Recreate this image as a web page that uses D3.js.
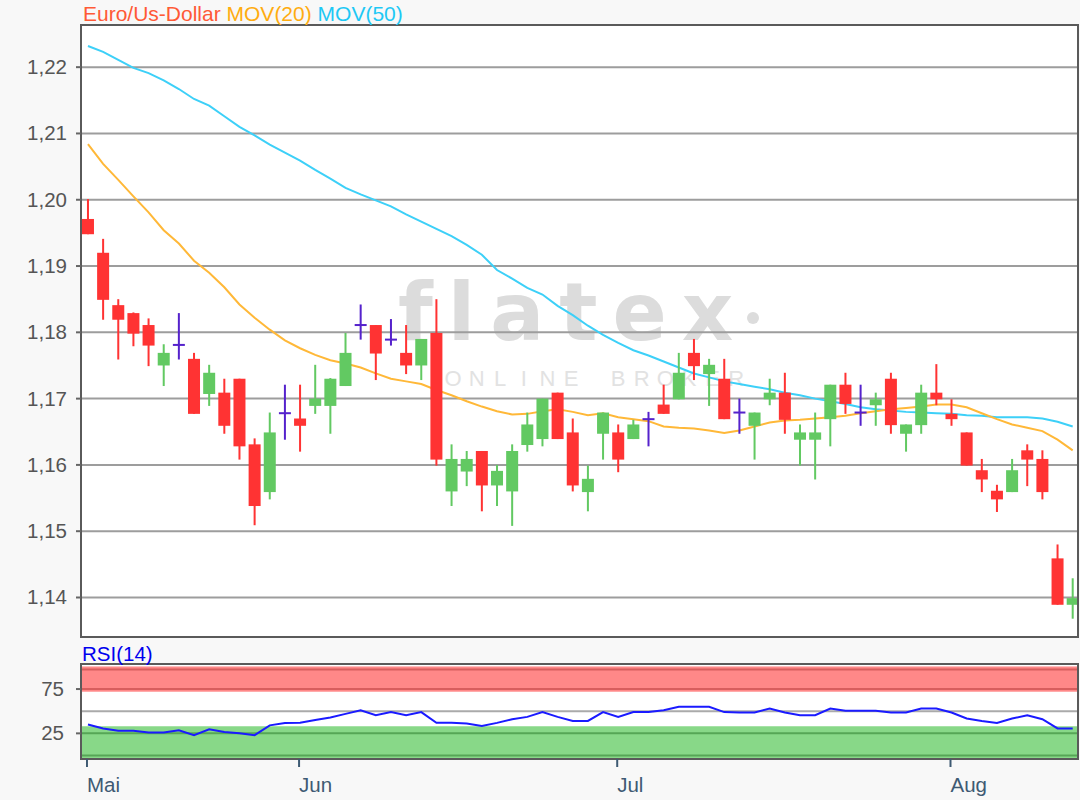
<!DOCTYPE html>
<html><head><meta charset="utf-8">
<script src="https://cdn.jsdelivr.net/npm/d3@7"></script>
<style>body{margin:0;background:#f8f8f8;} svg{display:block;font-family:"Liberation Sans",Arial,sans-serif;}</style>
</head><body><svg id="c" width="1080" height="800"></svg>
<script>
// ---- data ----
const openP  = [1.1971,1.1920,1.1841,1.1829,1.1811,1.1750,1.1781,1.1760,1.1707,1.1709,1.1730,1.1631,1.1559,1.1678,1.1670,1.1689,1.1689,1.1719,1.1811,1.1811,1.1789,1.1769,1.1750,1.1799,1.1560,1.1590,1.1621,1.1569,1.1560,1.1630,1.1639,1.1709,1.1649,1.1559,1.1647,1.1649,1.1639,1.1669,1.1691,1.1699,1.1769,1.1737,1.1730,1.1679,1.1659,1.1699,1.1709,1.1638,1.1638,1.1669,1.1721,1.1679,1.1690,1.1730,1.1647,1.1660,1.1709,1.1677,1.1649,1.1592,1.1561,1.1559,1.1622,1.1609,1.1459,1.1389];
const highP  = [1.2001,1.1941,1.1850,1.1830,1.1821,1.1782,1.1829,1.1769,1.1751,1.1730,1.1730,1.1640,1.1679,1.1721,1.1721,1.1751,1.1731,1.1799,1.1842,1.1811,1.1820,1.1811,1.1790,1.1850,1.1631,1.1621,1.1621,1.1600,1.1631,1.1679,1.1700,1.1709,1.1670,1.1599,1.1679,1.1661,1.1668,1.1680,1.1721,1.1769,1.1790,1.1760,1.1760,1.1700,1.1679,1.1730,1.1739,1.1661,1.1679,1.1721,1.1739,1.1721,1.1709,1.1739,1.1661,1.1721,1.1752,1.1699,1.1649,1.1609,1.1570,1.1609,1.1631,1.1622,1.1480,1.1429];
const lowP   = [1.1948,1.1819,1.1759,1.1779,1.1749,1.1719,1.1759,1.1677,1.1689,1.1647,1.1608,1.1509,1.1548,1.1638,1.1620,1.1677,1.1647,1.1719,1.1789,1.1728,1.1780,1.1737,1.1728,1.1599,1.1538,1.1568,1.1530,1.1538,1.1508,1.1620,1.1628,1.1639,1.1560,1.1530,1.1608,1.1589,1.1639,1.1628,1.1677,1.1699,1.1728,1.1689,1.1669,1.1647,1.1608,1.1690,1.1647,1.1599,1.1578,1.1628,1.1677,1.1659,1.1659,1.1647,1.1620,1.1647,1.1690,1.1659,1.1599,1.1559,1.1529,1.1559,1.1568,1.1548,1.1389,1.1368];
const closeP = [1.1948,1.1849,1.1819,1.1798,1.1780,1.1769,1.1781,1.1677,1.1739,1.1659,1.1628,1.1538,1.1649,1.1678,1.1659,1.1700,1.1730,1.1769,1.1811,1.1768,1.1789,1.1750,1.1790,1.1608,1.1609,1.1609,1.1569,1.1591,1.1621,1.1661,1.1700,1.1639,1.1569,1.1579,1.1679,1.1608,1.1661,1.1669,1.1677,1.1739,1.1749,1.1751,1.1669,1.1679,1.1679,1.1709,1.1668,1.1649,1.1649,1.1721,1.1692,1.1679,1.1699,1.1660,1.1661,1.1709,1.1699,1.1669,1.1599,1.1578,1.1548,1.1592,1.1608,1.1559,1.1389,1.1399];
const mov20  = [1.2084,1.2054,1.2030,1.2005,1.1981,1.1954,1.1934,1.1908,1.1890,1.1868,1.1842,1.1822,1.1804,1.1788,1.1776,1.1766,1.1758,1.1753,1.1747,1.1738,1.1730,1.1726,1.1722,1.1713,1.1705,1.1696,1.1688,1.1681,1.1676,1.1677,1.1681,1.1684,1.1680,1.1675,1.1678,1.1672,1.1669,1.1666,1.1658,1.1656,1.1655,1.1652,1.1648,1.1652,1.1658,1.1664,1.1667,1.1668,1.1670,1.1672,1.1674,1.1678,1.1681,1.1684,1.1686,1.1688,1.1691,1.1691,1.1687,1.1678,1.1669,1.1661,1.1656,1.1651,1.1638,1.1622];
const mov50  = [1.2232,1.2223,1.2211,1.2199,1.2191,1.2180,1.2167,1.2152,1.2142,1.2126,1.2110,1.2097,1.2083,1.2071,1.2059,1.2045,1.2032,1.2018,1.2008,1.1999,1.1990,1.1978,1.1967,1.1956,1.1945,1.1932,1.1917,1.1894,1.1881,1.1867,1.1857,1.1840,1.1826,1.1810,1.1796,1.1784,1.1773,1.1765,1.1756,1.1747,1.1738,1.1732,1.1726,1.1722,1.1718,1.1714,1.1709,1.1705,1.1700,1.1696,1.1692,1.1687,1.1684,1.1682,1.1680,1.1679,1.1678,1.1677,1.1675,1.1674,1.1672,1.1672,1.1672,1.1670,1.1665,1.1658];
const rsi14  = [35,30.5,28,28,26,26,28.5,23,29.5,26.5,25,23,34,36.8,37,40,43,47,51,45.5,49,45.5,49,37,37,36,33.4,36.8,41,43.6,49,43.6,39,39,49,43.6,49,49,51,55,55,55,49,48.5,48.5,53,48.5,45.5,45.5,53,50.4,50.4,50.4,48.5,48.5,53,53,48.5,41.7,39,36.8,41.7,45.5,41,30.5,30.5];
const monthIdx    = [0,14,35,57];
const monthLabels = ["Mai","Jun","Jul","Aug"];
const priceTicks  = [1.14,1.15,1.16,1.17,1.18,1.19,1.20,1.21,1.22];
const rsiTicks    = [25,75];

// ---- layout ----
const L=81,R=1078,T=25,B=637,T2=664,B2=759;
const svg=d3.select("#c");
const n=closeP.length;
const candles=d3.range(n).map(i=>({i,o:openP[i],h:highP[i],l:lowP[i],c:closeP[i]}));
const x=d3.scaleLinear().domain([-0.46,65.35]).range([L,R]);
const y=d3.scaleLinear().domain([1.13404,1.22636]).range([B,T]);
const yr=d3.scaleLinear().domain([0,100]).range([755.5,666.9]);
const fmt=d3.formatLocale({decimal:",",thousands:".",grouping:[3],currency:["","€"]}).format(".2f");

svg.append("rect").attr("width",1080).attr("height",800).attr("fill","#f8f8f8");

// ---- main panel ----
svg.append("rect").attr("x",L).attr("y",T).attr("width",R-L).attr("height",B-T).attr("fill","#fff");
svg.append("clipPath").attr("id","cp").append("rect").attr("x",L).attr("y",T).attr("width",R-L).attr("height",B-T);
const g=svg.append("g").attr("clip-path","url(#cp)");

// watermark
g.append("text").attr("x",398).attr("y",340).attr("font-family","DejaVu Sans").attr("font-weight","bold")
 .attr("font-size",80).attr("letter-spacing",15).attr("fill","#dcdcdc").text("flatex");
g.append("circle").attr("cx",753).attr("cy",318).attr("r",6).attr("fill","#dcdcdc");
g.selectAll("text.wm").data("ONLINE BROKER".split("")).join("text").attr("class","wm")
 .attr("x",(d,k)=>453+23.6*k).attr("y",386).attr("text-anchor","middle")
 .attr("font-size",22).attr("fill","#e2e2e2").text(d=>d);

// grid
g.selectAll("line.grid").data(priceTicks).join("line").attr("class","grid")
 .attr("x1",L).attr("x2",R).attr("y1",d=>y(d)).attr("y2",d=>y(d))
 .attr("stroke","#9d9d9d").attr("stroke-width",2);

// moving averages
const line=d3.line().x((d,i)=>x(i)).y(d=>y(d));
g.append("path").datum(mov50).attr("d",line).attr("fill","none").attr("stroke","#3dd0f8").attr("stroke-width",2);
g.append("path").datum(mov20).attr("d",line).attr("fill","none").attr("stroke","#ffb838").attr("stroke-width",2);

// candles
const col=d=>d.o===d.c?"#5522cc":(d.c>d.o?"#62c962":"#ff3333");
const cg=g.selectAll("g.cd").data(candles).join("g").attr("class","cd");
cg.append("rect").attr("x",d=>x(d.i)-1).attr("width",2)
 .attr("y",d=>y(d.h)).attr("height",d=>Math.max(1,y(d.l)-y(d.h))).attr("fill",col);
cg.append("rect").attr("x",d=>x(d.i)-6).attr("width",12)
 .attr("y",d=>d.o===d.c?y(d.o)-1:y(Math.max(d.o,d.c)))
 .attr("height",d=>d.o===d.c?2:Math.max(2,Math.abs(y(d.o)-y(d.c)))).attr("fill",col);

svg.append("rect").attr("x",L).attr("y",T).attr("width",R-L).attr("height",B-T)
 .attr("fill","none").attr("stroke","#5a5a5a").attr("stroke-width",2);

// y axis labels
svg.selectAll("line.yt").data(priceTicks).join("line").attr("class","yt")
 .attr("x1",76).attr("x2",L).attr("y1",d=>y(d)).attr("y2",d=>y(d)).attr("stroke","#666").attr("stroke-width",2);
svg.selectAll("text.yl").data(priceTicks).join("text").attr("class","yl")
 .attr("x",67).attr("y",d=>y(d)+7).attr("text-anchor","end").attr("font-size",20.5).attr("fill","#555").text(d=>fmt(d));

// title
const tt=svg.append("text").attr("x",83).attr("y",21).attr("font-size",21);
tt.append("tspan").attr("fill","#ff5a36").text("Euro/Us-Dollar ");
tt.append("tspan").attr("fill","#ffac10").text("MOV(20) ");
tt.append("tspan").attr("fill","#1ec8f5").text("MOV(50)");

// ---- RSI panel ----
svg.append("rect").attr("x",L).attr("y",T2).attr("width",R-L).attr("height",B2-T2).attr("fill","#fff");
svg.append("rect").attr("x",L).attr("y",yr(100.5)).attr("width",R-L).attr("height",yr(72)-yr(100.5)).attr("fill","#ff8888");
svg.append("rect").attr("x",L).attr("y",yr(33)).attr("width",R-L).attr("height",B2-yr(33)).attr("fill","#88d888");
[97,75].forEach(v=>svg.append("line").attr("x1",L).attr("x2",R).attr("y1",yr(v)).attr("y2",yr(v)).attr("stroke","#d85e5e").attr("stroke-width",2));
[25,0].forEach(v=>svg.append("line").attr("x1",L).attr("x2",R).attr("y1",yr(v)).attr("y2",yr(v)).attr("stroke","#56a656").attr("stroke-width",2));
svg.append("line").attr("x1",L).attr("x2",R).attr("y1",yr(50)).attr("y2",yr(50)).attr("stroke","#aaa").attr("stroke-width",2);
const rline=d3.line().x((d,i)=>x(i)).y(d=>yr(d));
svg.append("path").datum(rsi14).attr("d",rline).attr("fill","none").attr("stroke","#1a1aff").attr("stroke-width",2);
svg.append("rect").attr("x",L).attr("y",T2).attr("width",R-L).attr("height",B2-T2)
 .attr("fill","none").attr("stroke","#5a5a5a").attr("stroke-width",2);
svg.selectAll("line.rt").data(rsiTicks).join("line").attr("class","rt")
 .attr("x1",76).attr("x2",L).attr("y1",d=>yr(d)).attr("y2",d=>yr(d)).attr("stroke","#666").attr("stroke-width",2);
svg.selectAll("text.rl").data(rsiTicks).join("text").attr("class","rl")
 .attr("x",64).attr("y",d=>yr(d)+7).attr("text-anchor","end").attr("font-size",20.5).attr("fill","#555").text(d=>d);
svg.append("text").attr("x",82).attr("y",661).attr("font-size",20.5).attr("fill","#0000ee").text("RSI(14)");

// ---- x axis ----
svg.selectAll("line.xt").data(monthIdx).join("line").attr("class","xt")
 .attr("x1",d=>x(d)-1).attr("x2",d=>x(d)-1).attr("y1",B2).attr("y2",767).attr("stroke","#3e5a73").attr("stroke-width",2);
svg.selectAll("text.xl").data(monthIdx).join("text").attr("class","xl")
 .attr("x",d=>x(d)-1).attr("y",792).attr("font-size",20.5).attr("fill","#3e5a73").text((d,k)=>monthLabels[k]);
</script></body></html>
